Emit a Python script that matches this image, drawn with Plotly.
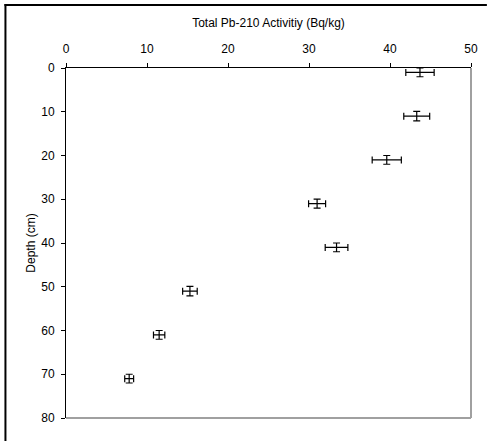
import plotly.graph_objects as go

activity = [43.7, 43.3, 39.6, 31.0, 33.4, 15.3, 11.5, 7.8]
activity_err = [1.75, 1.6, 1.8, 1.05, 1.4, 0.9, 0.7, 0.55]
depth = [1, 11, 21, 31, 41, 51, 61, 71]
depth_err = [1.0, 1.1, 1.0, 1.05, 1.0, 1.1, 1.0, 1.0]

W, H = 490, 441
L, R, T, B = 66, 474, 68, 418
pw, ph = R - L, B - T

fig = go.Figure()
fig.add_trace(go.Scatter(
    x=activity, y=depth, mode="markers",
    marker=dict(size=1, color="rgba(0,0,0,0)"),
    error_x=dict(type="data", array=activity_err, visible=True, color="black", thickness=1.2, width=3.5),
    error_y=dict(type="data", array=depth_err, visible=True, color="black", thickness=1.2, width=3.5),
    showlegend=False, hoverinfo="skip",
))

font = dict(family="Liberation Sans, Arial, sans-serif", size=12, color="black")

fig.update_layout(
    width=W, height=H,
    margin=dict(l=L, r=W - R, t=T, b=H - B),
    paper_bgcolor="white", plot_bgcolor="white",
    font=font,
    xaxis=dict(
        side="top", range=[0, 50], dtick=10, showgrid=False, zeroline=False,
        showline=True, linecolor="black", linewidth=1,
        ticks="outside", ticklen=4, tickcolor="black", ticklabelstandoff=5,
        title=dict(text="Total Pb-210 Activitiy (Bq/kg)", font=font, standoff=12),
    ),
    yaxis=dict(
        range=[80, 0], dtick=10, showgrid=False, zeroline=False,
        showline=True, linecolor="black", linewidth=1,
        ticks="outside", ticklen=4, tickcolor="black", ticklabelstandoff=4,
        title=dict(text="Depth (cm)", font=font, standoff=3),
    ),
    shapes=[
        dict(type="line", xref="paper", yref="paper", x0=1, x1=1, y0=0, y1=1,
             line=dict(color="#a0a0a0", width=2)),
        dict(type="line", xref="paper", yref="paper", x0=0, x1=1, y0=0, y1=0,
             line=dict(color="#a0a0a0", width=2)),
        dict(type="line", xref="paper", yref="paper",
             x0=(5 - L) / pw, x1=(5 - L) / pw, y0=1 + (T - 4) / ph, y1=-(H - B) / ph,
             line=dict(color="black", width=2)),
        dict(type="line", xref="paper", yref="paper",
             x0=(4 - L) / pw, x1=(W - L) / pw, y0=1 + (T - 5) / ph, y1=1 + (T - 5) / ph,
             line=dict(color="black", width=2)),
    ],
)

fig.write_html("out.html")
